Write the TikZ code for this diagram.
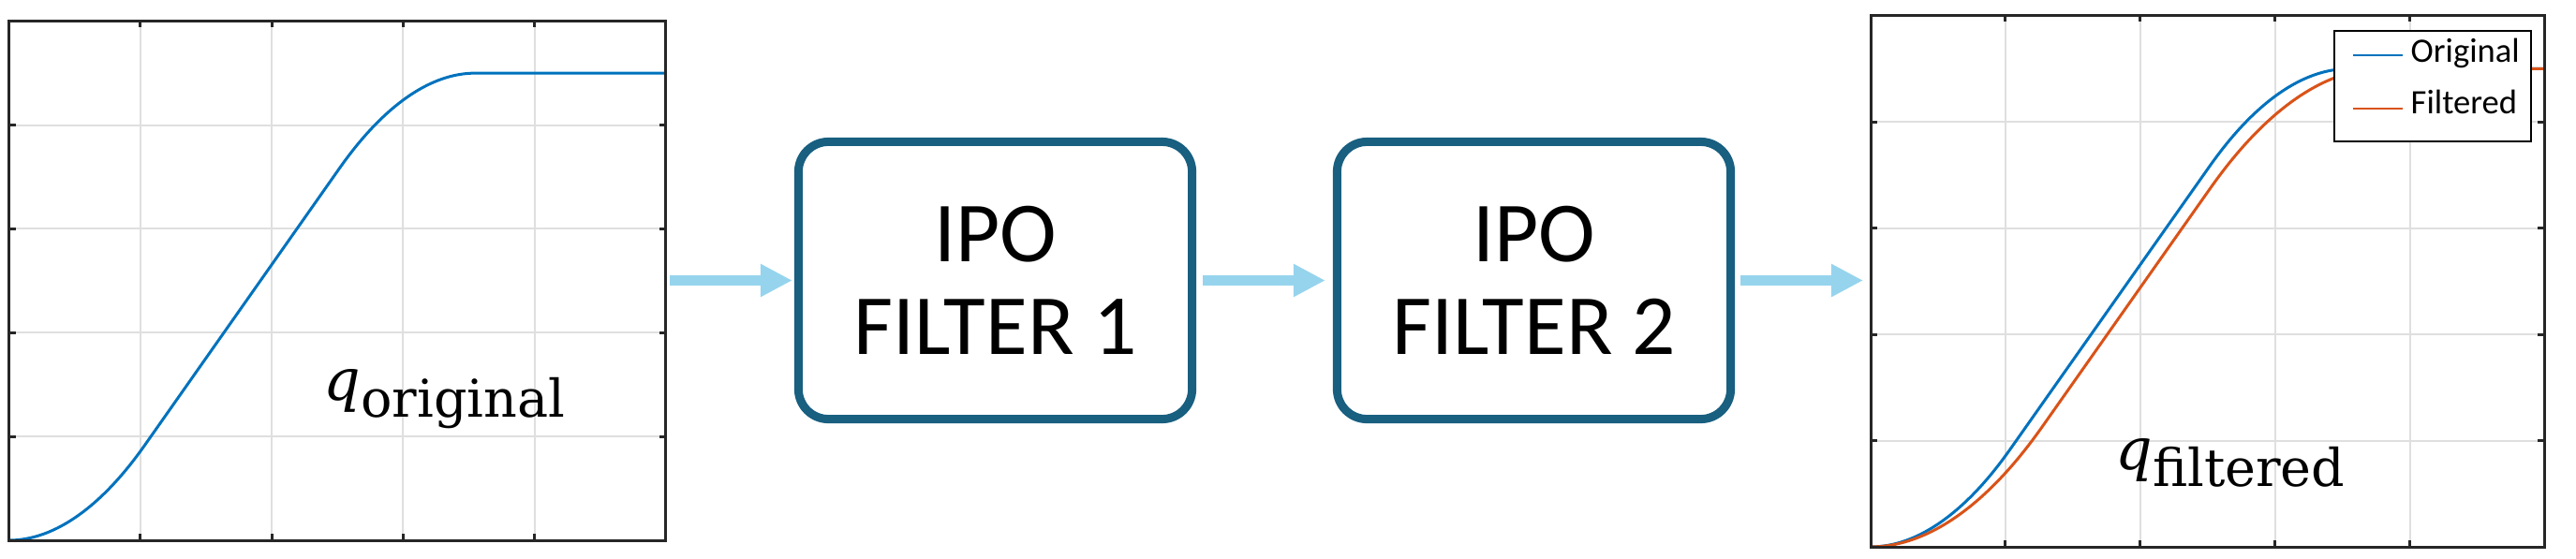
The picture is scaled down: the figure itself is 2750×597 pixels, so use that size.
\documentclass[tikz,border=0pt]{standalone}
\usepackage{fontspec}
\newfontfamily\boxfont{Carlito}
\newfontfamily\labelfont{DejaVu Serif}
\usetikzlibrary{arrows.meta}

\definecolor{plotblue}{RGB}{0,114,189}
\definecolor{plotorange}{RGB}{217,83,25}
\definecolor{gridgray}{RGB}{223,223,223}
\definecolor{framegray}{RGB}{38,38,38}
\definecolor{boxblue}{RGB}{24,95,128}
\definecolor{flowblue}{RGB}{150,212,238}

\tikzset{
    ipobox/.style={rectangle, rounded corners=0.32cm, draw=boxblue, line width=0.09cm,
        minimum width=4.2cm, minimum height=2.96cm, align=center,
        font=\boxfont\fontsize{26}{28.2}\selectfont},
    flowarrow/.style={flowblue, line width=0.11cm, -{Triangle[length=0.34cm, width=0.33cm]}},
    gridline/.style={gridgray, line width=0.02cm},
    frameline/.style={framegray, line width=0.03cm},
    origline/.style={plotblue, line width=0.03cm},
    filtline/.style={plotorange, line width=0.03cm},
    legendtext/.style={anchor=base west, inner sep=0pt, font=\boxfont\fontsize{10.4}{12}\selectfont},
    qlabel/.style={anchor=base west, inner sep=0pt, font=\labelfont\fontsize{17.6}{20}\selectfont}
}
% q with a large upright subscript
\newcommand{\qsub}[1]{\textit{q}\raisebox{-0.18cm}{\fontsize{15.8}{18}\selectfont #1}}

\begin{document}
\begin{tikzpicture}[x=0.01cm, y=-0.01cm]
        \useasboundingbox (0,0) rectangle (2750,597);

        % original trajectory
        \begin{scope}[shift={(9.5,577)}, x=1.402cm, y=1.108cm]
            \foreach \i in {1,...,4} {
                \draw[gridline] (\i,0) -- (\i,5) (0,\i) -- (5,\i);
            }
            \draw[origline] (0,0) parabola (1.05,0.945) -- (2.5,3.555) parabola[bend at end] (3.55,4.5) -- (5,4.5);
            \foreach \i in {1,...,4} {
                \draw[frameline] (\i,0) -- ++(0,0.06) (\i,5) -- ++(0,-0.06);
                \draw[frameline] (0,\i) -- ++(0.05,0) (5,\i) -- ++(-0.05,0);
            }
            \draw[frameline] (0,0) rectangle (5,5);
        \end{scope}
        \node[qlabel] (qorig) at (345,427) {\qsub{original}};

        % filtered trajectory
        \begin{scope}[shift={(1997,584)}, x=1.438cm, y=1.134cm]
            \foreach \i in {1,...,4} {
                \draw[gridline] (\i,0) -- (\i,5) (0,\i) -- (5,\i);
            }
            \draw[origline] (0,0) parabola (1.05,0.945) -- (2.5,3.555) parabola[bend at end] (3.55,4.5) -- (5,4.5);
            \draw[filtline] (0,0) parabola (1.29,1.161) -- (2.5,3.339) parabola[bend at end] (3.79,4.5) -- (5,4.5);
            \foreach \i in {1,...,4} {
                \draw[frameline] (\i,0) -- ++(0,0.06) (\i,5) -- ++(0,-0.06);
                \draw[frameline] (0,\i) -- ++(0.05,0) (5,\i) -- ++(-0.05,0);
            }
            \draw[frameline] (0,0) rectangle (5,5);
        \end{scope}
        \node[qlabel] (qfilt) at (2258,501) {\qsub{filtered}};

        % legend
        \draw[black, line width=0.015cm, fill=white] (2492,33) rectangle (2702,151);
        \draw[origline, line width=0.02cm] (2512,59) -- (2565,59);
        \draw[filtline, line width=0.02cm] (2512,116) -- (2565,116);
        \node[legendtext] (legorig) at (2573,66) {Original};
        \node[legendtext] (legfilt) at (2573,121) {Filtered};

        % filter chain
        \node[ipobox] (filt1) at (1062.5,299.5) {IPO\\FILTER 1};
        \node[ipobox] (filt2) at (1637.5,299.5) {IPO\\FILTER 2};
        \coordinate (origout) at (710.5,299.5);
        \coordinate (filtin) at (1997,299.5);

        \draw[flowarrow, shorten <=0.045cm, shorten >=0.02cm] (origout) -- (filt1.west);
        \draw[flowarrow, shorten <=0.07cm, shorten >=0.08cm] (filt1.east) -- (filt2.west);
        \draw[flowarrow, shorten <=0.06cm, shorten >=0.08cm] (filt2.east) -- (filtin);
    \end{tikzpicture}
\end{document}
